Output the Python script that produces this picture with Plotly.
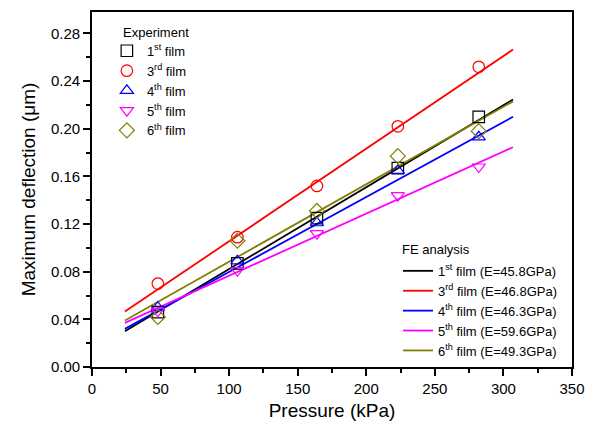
import plotly.graph_objects as go

pressure = [48, 106, 164, 223, 282]
exp_names = ["1<sup>st</sup> film", "3<sup>rd</sup> film", "4<sup>th</sup> film",
             "5<sup>th</sup> film", "6<sup>th</sup> film"]
exp_1st = [0.046, 0.087, 0.125, 0.167, 0.210]
exp_3rd = [0.070, 0.109, 0.152, 0.202, 0.252]
exp_4th = [0.050, 0.089, 0.121, 0.165, 0.193]
exp_5th = [0.047, 0.081, 0.112, 0.144, 0.168]
exp_6th = [0.042, 0.106, 0.131, 0.177, 0.198]

fe_pressure = [24, 307]
fe_names = ["1<sup>st</sup> film (E=45.8GPa)", "3<sup>rd</sup> film (E=46.8GPa)",
            "4<sup>th</sup> film (E=46.3GPa)", "5<sup>th</sup> film (E=59.6GPa)",
            "6<sup>th</sup> film (E=49.3GPa)"]
fe_1st = [0.030, 0.2245]
fe_3rd = [0.0465, 0.2665]
fe_4th = [0.032, 0.210]
fe_5th = [0.037, 0.1845]
fe_6th = [0.039, 0.223]

colors = ["#000000", "#ff0000", "#0000ff", "#ff00ff", "#808000"]
symbols = ["square-open", "circle-open", "triangle-up-open", "triangle-down-open", "diamond-open"]

exp_series = [exp_1st, exp_3rd, exp_4th, exp_5th, exp_6th]
fe_series = [fe_1st, fe_3rd, fe_4th, fe_5th, fe_6th]

fig = go.Figure()
for name, ys, c in zip(fe_names, fe_series, colors):
    fig.add_trace(go.Scatter(x=fe_pressure, y=ys, mode="lines", name=name,
                             line=dict(color=c, width=1.8), legend="legend2"))
for name, ys, c, s in zip(exp_names, exp_series, colors, symbols):
    fig.add_trace(go.Scatter(x=pressure, y=ys, mode="markers", name=name,
                             marker=dict(symbol=s, color=c, size=11.5, line=dict(width=1.2, color=c)),
                             legend="legend"))

font = "Liberation Sans, Arial, sans-serif"
fig.update_layout(
    width=599, height=427,
    margin=dict(l=92, r=27, t=12, b=60),
    paper_bgcolor="white", plot_bgcolor="white",
    font=dict(family=font, color="black", size=15),
    xaxis=dict(range=[0, 350], dtick=50, tick0=0, showgrid=False, zeroline=False, automargin=False,
               showline=True, linecolor="black", linewidth=1.8, mirror=True,
               ticks="outside", ticklen=7, tickwidth=1.5, tickcolor="black",
               minor=dict(dtick=25, ticks="outside", ticklen=4, tickwidth=1.5, tickcolor="black"),
               tickfont=dict(size=15),
               title=dict(text="Pressure (kPa)", font=dict(size=19), standoff=8)),
    yaxis=dict(range=[0, 0.298], dtick=0.04, tick0=0, tickformat=".2f", showgrid=False, zeroline=False,
               automargin=False,
               showline=True, linecolor="black", linewidth=1.8, mirror=True,
               ticks="outside", ticklen=7, tickwidth=1.5, tickcolor="black",
               minor=dict(dtick=0.02, ticks="outside", ticklen=4, tickwidth=1.5, tickcolor="black"),
               tickfont=dict(size=15),
               title=dict(text="Maximum deflection (\u03bcm)", font=dict(size=19), standoff=10)),
    legend=dict(x=0.031, y=0.933, xanchor="left", yanchor="top", bgcolor="rgba(0,0,0,0)",
                font=dict(size=13), tracegroupgap=0, itemwidth=30),
    legend2=dict(x=0.6375, y=0.313, xanchor="left", yanchor="top", bgcolor="rgba(0,0,0,0)",
                 font=dict(size=13), tracegroupgap=0, itemwidth=30),
    annotations=[
        dict(text="Experiment", x=121, y=32, xref="paper", yref="paper", showarrow=False,
             xanchor="left", yanchor="middle", font=dict(size=13)),
        dict(text="FE analysis", x=400, y=249, xref="paper", yref="paper", showarrow=False,
             xanchor="left", yanchor="middle", font=dict(size=13)),
    ],
)
# convert annotation pixel positions to paper coords
pw, ph = 599 - 92 - 27, 427 - 12 - 60
for a in fig.layout.annotations:
    a.x = (a.x - 92) / pw
    a.y = (367 - a.y) / ph

fig.write_html("out.html", config={"displayModeBar": False},
               post_script="document.body.style.margin='0px';document.body.style.overflow='hidden';")
